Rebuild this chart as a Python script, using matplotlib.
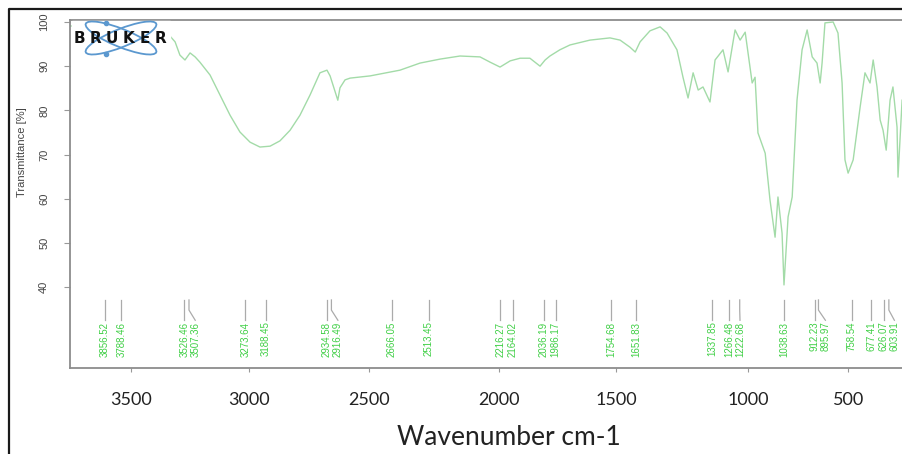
import matplotlib.pyplot as plt
from matplotlib.patches import Ellipse, Rectangle
import numpy as np

# spectrum (wavenumber cm-1, transmittance %)
wavenumber = [4001, 3877, 3752, 3670, 3628, 3586, 3565, 3545, 3524, 3503, 3482, 3462,
              3420, 3379, 3337, 3296, 3254, 3213, 3171, 3130, 3088, 3047, 3005, 2964,
              2935, 2922, 2901, 2890, 2881, 2860, 2839, 2756, 2632, 2549, 2466, 2383,
              2300, 2258, 2217, 2196, 2175, 2134, 2093, 2051, 2030, 2010, 1969, 1927,
              1844, 1761, 1719, 1678, 1656, 1636, 1595, 1553, 1524, 1483, 1458, 1437,
              1416, 1395, 1375, 1346, 1325, 1292, 1271, 1242, 1221, 1200, 1171, 1159,
              1147, 1117, 1097, 1076, 1064, 1047, 1039, 1022, 1005, 985, 964, 943,
              922, 902, 889, 881, 869, 835, 815, 798, 786, 773, 752, 723,
              703, 682, 669, 653, 640, 628, 615, 599, 587, 570, 566, 549]
transmittance = [99.1, 98.9, 98.6, 98.2, 97.7, 96.8, 95.5, 92.5, 91.4, 93.0, 92.1, 90.9,
                 88.0, 83.5, 78.9, 75.1, 72.8, 71.7, 71.9, 73.1, 75.5, 78.9, 83.5, 88.5,
                 89.1, 87.8, 84.2, 82.3, 85.1, 86.9, 87.3, 87.8, 89.1, 90.7, 91.6, 92.3,
                 92.1, 90.9, 89.8, 90.5, 91.2, 91.8, 91.8, 90.0, 91.4, 92.3, 93.7, 94.8,
                 95.9, 96.4, 95.9, 94.3, 93.2, 95.5, 98.0, 98.9, 97.5, 93.7, 87.5, 82.8,
                 88.5, 84.6, 85.3, 81.9, 91.4, 93.7, 88.7, 98.2, 95.9, 97.7, 86.2, 87.5,
                 74.9, 70.3, 59.7, 51.3, 60.4, 52.2, 40.5, 55.9, 60.4, 82.3, 93.7, 98.2,
                 92.1, 90.7, 86.2, 90.7, 99.8, 100.0, 97.5, 86.2, 68.8, 65.8, 68.8, 80.8,
                 88.5, 86.2, 91.4, 85.3, 77.8, 75.5, 71.0, 82.3, 85.3, 76.2, 64.9, 82.3]

peak_wavenumbers = [3856.52, 3788.46, 3526.46, 3507.36, 3273.64, 3188.45, 2934.58,
                    2916.49, 2666.05, 2513.45, 2216.27, 2164.02, 2036.19, 1986.17,
                    1754.68, 1651.83, 1337.85, 1266.48, 1222.68, 1038.63, 912.23,
                    895.97, 758.54, 677.41, 626.07, 603.91]

# tick labels sit where the reference draws them
tick_positions = [3748, 3258, 2760, 2221, 1736, 1188, 773]
tick_labels = ["3500", "3000", "2500", "2000", "1500", "1000", "500"]
y_ticks = [40, 50, 60, 70, 80, 90, 100]

W, H = 903, 454
fig = plt.figure(figsize=(W / 100, H / 100), dpi=100)
ax = fig.add_axes([70 / W, 86 / H, 835 / W, 348 / H])

ax.plot(wavenumber, transmittance, color="#a3dba8", lw=1.0)
ax.set_xlim(4001, 537)
ax.set_ylim(21.7, 100.45)

# peak markers with labels pushed apart when they collide
min_sep = 45
label_x = []
for wn in peak_wavenumbers:
    if label_x and label_x[-1] - wn < min_sep:
        label_x.append(label_x[-1] - min_sep)
    else:
        label_x.append(wn)
for wn, lx in zip(peak_wavenumbers, label_x):
    ax.plot([wn, wn, lx], [37.1, 34.8, 32.5], color="#ababab", lw=0.9)
    ax.text(lx, 32.2, f"{wn:.2f}", rotation=90, ha="center", va="top",
            fontsize=7, color="#3fcf45", family="Liberation Sans")

# axes formatting
for side in ["left", "bottom", "top"]:
    ax.spines[side].set_color("#8c8c8c")
    ax.spines[side].set_linewidth(1.3)
ax.spines["right"].set_visible(False)

ax.set_yticks(y_ticks)
ax.set_yticklabels([str(v) for v in y_ticks], rotation=90, va="center",
                   fontsize=8, color="#444444", family="Liberation Sans")
ax.tick_params(axis="y", length=4, color="#999999", pad=11)

ax.set_xticks(tick_positions)
ax.set_xticklabels(tick_labels, fontsize=13, color="#222222", family="Lato")
ax.tick_params(axis="x", length=3, color="#999999", pad=14)

ax.set_ylabel("Transmittance [%]", fontsize=8, color="#444444", family="Liberation Sans")
ax.yaxis.set_label_coords(-0.052, 0.621)
ax.set_xlabel("Wavenumber cm-1", fontsize=19, color="#222222", family="Lato")
ax.xaxis.set_label_coords(0.526, -0.165)

# overlay in pixel units: outer frame and the Bruker logo
deco = fig.add_axes([0, 0, 1, 1], zorder=5)
deco.set_xlim(0, W)
deco.set_ylim(H, 0)
deco.axis("off")
deco.patch.set_visible(False)
deco.plot([9, 9, W], [H, 9, 9], color="#1a1a1a", lw=1.6)

deco.add_patch(Rectangle((72, 21), 98, 36, color="white"))
for ang in (22, -22):
    deco.add_patch(Ellipse((121, 38), 76, 18, angle=ang, fill=False,
                           edgecolor="#5b98cf", lw=1.3))
deco.plot([106, 106], [23, 54], "o", color="#5b98cf", ms=3)
for x, ch in zip(np.linspace(79, 161, 6), "BRUKER"):
    deco.text(x, 38.5, ch, ha="center", va="center", fontsize=11,
              fontweight="bold", color="#111111", family="DejaVu Sans")

fig.savefig("out.png", dpi=100)
